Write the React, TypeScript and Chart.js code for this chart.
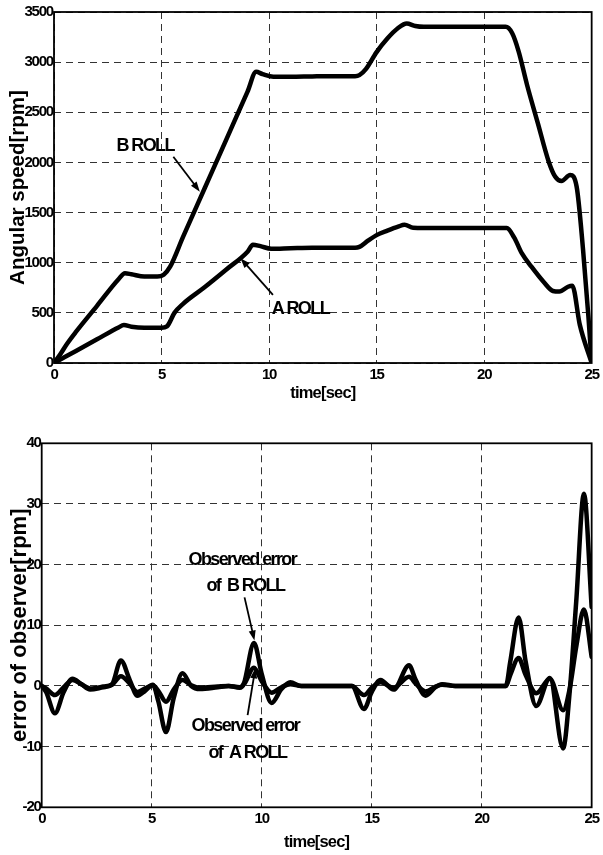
import React, { useEffect, useRef } from 'react';
import { Chart, registerables } from 'chart.js';
Chart.register(...registerables);

// ---------- Data: angular speed ----------
const timeB = [0, 0.3, 0.6, 1, 2, 3, 3.3, 3.6, 4.2, 4.8, 5.1, 5.4, 6, 7, 8, 9, 9.4, 9.7, 10.2, 11, 12, 13, 14, 14.2, 14.5, 15, 15.5, 16, 16.4, 16.8, 17.2, 18, 19, 20, 21, 21.3, 21.6, 22, 22.5, 23, 23.3, 23.6, 24, 24.3, 24.6, 24.85, 25];
const speedB = [0, 90, 190, 305, 570, 835, 895, 885, 862, 862, 880, 960, 1257, 1740, 2223, 2706, 2903, 2880, 2855, 2855, 2858, 2860, 2860, 2870, 2930, 3100, 3235, 3340, 3385, 3360, 3352, 3352, 3352, 3352, 3352, 3290, 3110, 2770, 2390, 2010, 1860, 1815, 1875, 1760, 1130, 460, 0];
const timeA = [0, 1, 2, 3, 3.25, 3.6, 4.2, 5, 5.25, 5.6, 6, 7, 8, 9, 9.25, 9.6, 10.1, 11, 12, 13, 14, 14.2, 14.6, 15, 15.5, 16, 16.3, 16.7, 17.2, 18, 19, 20, 21.05, 21.4, 21.75, 22.2, 22.8, 23.2, 23.5, 23.9, 24.1, 24.45, 25];
const speedA = [0, 118, 236, 355, 378, 362, 352, 352, 365, 500, 590, 755, 930, 1110, 1180, 1165, 1140, 1145, 1150, 1150, 1150, 1158, 1220, 1275, 1320, 1360, 1378, 1348, 1345, 1345, 1345, 1345, 1345, 1250, 1095, 960, 800, 718, 712, 760, 770, 380, 0];

// ---------- Data: observer error ----------
const errTime = [0, 0.2, 0.6, 1.0, 1.4, 1.8, 2.2, 2.8, 3.2, 3.6, 4.0, 4.35, 4.7, 5.05, 5.3, 5.65, 6.0, 6.4, 6.8, 7.2, 8.0, 8.5, 9.0, 9.2, 9.65, 10.0, 10.45, 10.9, 11.3, 11.8, 12.5, 13.5, 14.1, 14.65, 15.0, 15.4, 16.0, 16.7, 17.0, 17.45, 17.9, 18.2, 18.8, 19.5, 20.5, 21.1, 21.3, 21.68, 22.0, 22.48, 23.1, 23.7, 24.0, 24.3, 24.65, 25];
const errB = [0, -1, -4.5, -1, 1.2, 0.3, -0.6, -0.2, 0.3, 4.2, 1, -1.6, -0.8, 0.2, -2.5, -7.6, -2, 2.1, 0, -0.5, -0.2, 0, -0.3, 0.5, 7.1, 2, -2.8, -0.5, 0.6, 0, 0, 0, 0, -3.8, -1, 1.0, -0.6, 3.4, 1, -1.6, -0.2, 0.3, 0, 0, 0, 0, 4, 11.3, 4, -3.3, 1.3, -10.3, -1, 14, 31.7, 13];
const errA = [0, -0.4, -1.5, -0.2, 1.0, 0.3, -0.4, -0.1, 0.2, 1.6, 0.4, -1.0, -0.4, 0.1, -0.8, -2.6, -0.6, 1.0, 0.1, -0.3, -0.1, 0, -0.2, 0.3, 3.0, 0.8, -1.1, -0.2, 0.3, 0, 0, 0, 0, -1.5, -0.3, 0.6, -0.3, 1.5, 0.4, -0.9, -0.1, 0.2, 0, 0, 0, 0, 1.8, 4.6, 1.8, -1.2, 1.2, -4.0, -0.5, 6.5, 12.6, 4.8];

// ---------- Annotations (data coordinates) ----------
const topTexts = [
  { text: 'B ROLL', x: 4.24, y: 2163, align: 'center' },
  { text: 'A ROLL', x: 10.12, y: 536, align: 'left' },
];
const topArrows = [
  { x1: 5.55, y1: 2057, x2: 6.78, y2: 1708 },
  { x1: 10.18, y1: 680, x2: 8.67, y2: 1045 },
];
const botTexts = [
  { text: 'Observed error', x: 9.12, y: 20.7, align: 'center' },
  { text: 'of  B ROLL', x: 9.26, y: 16.4, align: 'center' },
  { text: 'Observed error', x: 9.26, y: -6.6, align: 'center' },
  { text: 'of  A ROLL', x: 9.35, y: -11.1, align: 'center' },
];
const botArrows = [
  { x1: 9.22, y1: 14.6, x2: 9.67, y2: 7.5 },
  { x1: 9.36, y1: -4.8, x2: 9.71, y2: 2.9 },
];

const FAMILY = '"Liberation Sans", Arial, sans-serif';

function zip(xs: number[], ys: number[]) {
  return xs.map((x, i) => ({ x, y: ys[i] }));
}

function makePlugin(cfg: any) {
  return {
    id: 'decor',
    beforeDraw(chart: any) {
      chart.ctx.letterSpacing = '-1.2px';
    },
    afterDraw(chart: any) {
      const { ctx, chartArea: a, scales } = chart;
      const sx = scales.x, sy = scales.y;
      ctx.save();
      ctx.setLineDash([]);
      ctx.strokeStyle = '#000';
      ctx.lineWidth = 1.8;
      ctx.strokeRect(a.left, a.top, a.right - a.left, a.bottom - a.top);

      // annotation texts
      ctx.fillStyle = '#000';
      ctx.font = 'bold 18px ' + FAMILY;
      ctx.letterSpacing = '-1.6px';
      ctx.textBaseline = 'middle';
      for (const t of cfg.texts) {
        ctx.textAlign = t.align;
        ctx.fillText(t.text, sx.getPixelForValue(t.x), sy.getPixelForValue(t.y));
      }
      // arrows
      for (const ar of cfg.arrows) {
        const x1 = sx.getPixelForValue(ar.x1), y1 = sy.getPixelForValue(ar.y1);
        const x2 = sx.getPixelForValue(ar.x2), y2 = sy.getPixelForValue(ar.y2);
        const ang = Math.atan2(y2 - y1, x2 - x1);
        const L = 10, W = 3.5;
        ctx.lineWidth = 1.8;
        ctx.beginPath();
        ctx.moveTo(x1, y1);
        ctx.lineTo(x2 - Math.cos(ang) * L * 0.8, y2 - Math.sin(ang) * L * 0.8);
        ctx.stroke();
        ctx.beginPath();
        ctx.moveTo(x2, y2);
        ctx.lineTo(x2 - Math.cos(ang) * L - Math.sin(ang) * W, y2 - Math.sin(ang) * L + Math.cos(ang) * W);
        ctx.lineTo(x2 - Math.cos(ang) * L + Math.sin(ang) * W, y2 - Math.sin(ang) * L - Math.cos(ang) * W);
        ctx.closePath();
        ctx.fill();
      }

      // axis titles
      ctx.font = 'bold ' + cfg.xTitleSize + 'px ' + FAMILY;
      ctx.letterSpacing = '-0.8px';
      ctx.textAlign = 'center';
      ctx.textBaseline = 'middle';
      ctx.fillText(cfg.xTitle, (a.left + a.right) / 2, a.bottom + cfg.xTitleOffset);

      ctx.font = 'bold ' + cfg.yTitleSize + 'px ' + FAMILY;
      ctx.letterSpacing = '0px';
      ctx.translate(cfg.yTitleX, (a.top + a.bottom) / 2);
      ctx.rotate(-Math.PI / 2);
      ctx.fillText(cfg.yTitle, 0, 0);
      ctx.restore();
    },
  };
}

function buildConfig(opts: any) {
  const tickFont = { family: FAMILY, size: 15, weight: 'bold' as const };
  const line = (pts: any[]) => ({
    data: pts,
    borderColor: '#000',
    borderWidth: 4.5,
    pointRadius: 0,
    cubicInterpolationMode: 'monotone' as const,
    borderJoinStyle: 'round' as const,
    borderCapStyle: 'round' as const,
    fill: false,
  });
  return {
    type: 'line' as const,
    data: { datasets: opts.series.map(line) },
    options: {
      animation: false as const,
      responsive: false,
      devicePixelRatio: 1,
      layout: { padding: { top: opts.padTop, right: opts.padRight, left: 0, bottom: 0 } },
      plugins: { legend: { display: false }, tooltip: { enabled: false } },
      scales: {
        x: {
          type: 'linear' as const,
          min: 0,
          max: 25,
          ticks: { stepSize: 5, font: tickFont, color: '#000', padding: 3, maxRotation: 0, autoSkip: false, callback: (v: any) => String(v) },
          grid: { color: '#333', lineWidth: 1, drawTicks: false },
          border: { display: false, dash: [7, 5] },
          afterFit: (s: any) => { s.height = opts.xAxisH; },
        },
        y: {
          type: 'linear' as const,
          min: opts.yMin,
          max: opts.yMax,
          ticks: { stepSize: opts.yStep, font: tickFont, color: '#000', padding: 1, callback: (v: any) => String(v) },
          grid: { color: '#333', lineWidth: 1, drawTicks: false },
          border: { display: false, dash: [7, 5] },
          afterFit: (s: any) => { s.width = opts.yAxisW; },
        },
      },
    },
    plugins: [makePlugin(opts.decor)],
  };
}

function ChartCanvas({ config, width, height, top }: any) {
  const ref = useRef<HTMLCanvasElement>(null);
  useEffect(() => {
    const chart = new Chart(ref.current as HTMLCanvasElement, config);
    return () => chart.destroy();
  }, []);
  return (
    <canvas
      ref={ref}
      width={width}
      height={height}
      style={{ position: 'absolute', left: 0, top, width, height }}
    />
  );
}

export default function App() {
  const topCfg = buildConfig({
    series: [zip(timeB, speedB), zip(timeA, speedA)],
    yMin: 0, yMax: 3500, yStep: 500,
    padTop: 12, padRight: 9.5, xAxisH: 57, yAxisW: 54,
    decor: {
      texts: topTexts, arrows: topArrows,
      xTitle: 'time[sec]', xTitleSize: 16.5, xTitleOffset: 30,
      yTitle: 'Angular speed[rpm]', yTitleSize: 20.5, yTitleX: 18,
    },
  });
  const botCfg = buildConfig({
    series: [zip(errTime, errB), zip(errTime, errA)],
    yMin: -20, yMax: 40, yStep: 10,
    padTop: 23.3, padRight: 9.5, xAxisH: 47.7, yAxisW: 41.7,
    decor: {
      texts: botTexts, arrows: botArrows,
      xTitle: 'time[sec]', xTitleSize: 16.5, xTitleOffset: 35,
      yTitle: 'error of observer[rpm]', yTitleSize: 22, yTitleX: 20,
    },
  });
  return (
    <div style={{ position: 'absolute', left: 0, top: 0, width: 603, height: 855, background: '#fff' }}>
      <ChartCanvas config={topCfg} width={603} height={420} top={0} />
      <ChartCanvas config={botCfg} width={603} height={435} top={420} />
    </div>
  );
}
